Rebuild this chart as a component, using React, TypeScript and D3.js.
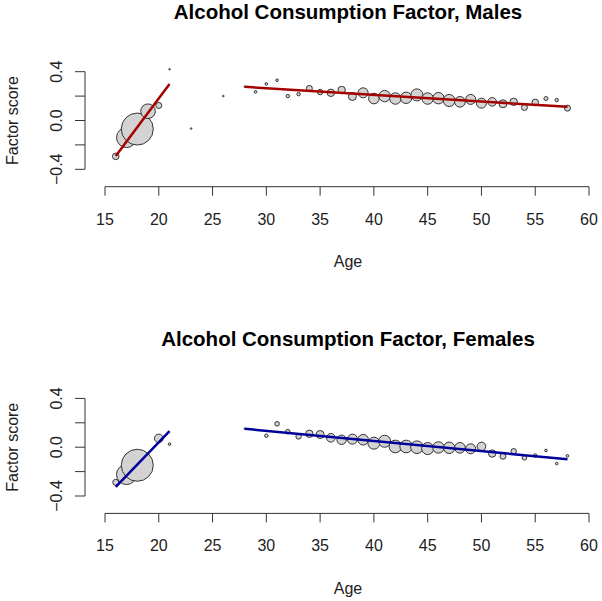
import React from "react";
import * as d3 from "d3";

// ---- Data ----
const maleAges = [16, 17, 18, 19, 20, 21, 23, 26, 28, 29, 30, 31, 32, 33, 34, 35, 36, 37, 38, 39, 40, 41, 42, 43, 44, 45, 46, 47, 48, 49, 50, 51, 52, 53, 54, 55, 56, 57, 58];
const maleScores = [-0.294, -0.14, -0.07, 0.076, 0.123, 0.42, -0.066, 0.2, 0.277, 0.235, 0.3, 0.33, 0.2, 0.216, 0.263, 0.233, 0.227, 0.25, 0.197, 0.227, 0.18, 0.2, 0.18, 0.186, 0.21, 0.18, 0.183, 0.164, 0.153, 0.173, 0.142, 0.153, 0.137, 0.153, 0.107, 0.148, 0.18, 0.167, 0.101];
const maleN = [109, 1000, 2560, 533, 90, 6, 6, 6, 6, 17, 17, 17, 29, 29, 90, 73, 137, 137, 160, 250, 281, 325, 325, 325, 360, 325, 325, 360, 281, 250, 250, 185, 160, 137, 90, 109, 40, 29, 90];

const femaleAges = [16, 17, 18, 20, 21, 28, 30, 31, 32, 33, 34, 35, 36, 37, 38, 39, 40, 41, 42, 43, 44, 45, 46, 47, 48, 49, 50, 51, 52, 53, 54, 55, 56, 57, 58];
const femaleScores = [-0.288, -0.224, -0.148, 0.072, 0.025, 0.151, 0.094, 0.192, 0.127, 0.088, 0.11, 0.104, 0.077, 0.061, 0.066, 0.061, 0.033, 0.049, 0.006, 0.006, 0.0, -0.011, -0.002, -0.005, -0.005, -0.013, 0.006, -0.052, -0.074, -0.033, -0.087, -0.068, -0.027, -0.134, -0.071];
const femaleN = [90, 1000, 2560, 185, 17, 6, 29, 53, 53, 73, 137, 160, 185, 221, 250, 281, 360, 360, 397, 397, 397, 360, 325, 325, 281, 250, 185, 137, 90, 73, 53, 29, 17, 17, 17];

// Fitted segments: [ageStart, ageEnd] -> [scoreStart, scoreEnd]
const maleFitYoungAges = [16, 21];
const maleFitYoung = [-0.29, 0.3];
const maleFitAdultAges = [28, 58];
const maleFitAdult = [0.276, 0.112];
const femaleFitYoungAges = [16, 21];
const femaleFitYoung = [-0.326, 0.132];
const femaleFitAdultAges = [28, 58];
const femaleFitAdult = [0.151, -0.099];

const xTicks = [15, 20, 25, 30, 35, 40, 45, 50, 55, 60];
const yTicks = [-0.4, -0.2, 0.0, 0.2, 0.4];
const yTickLabels = ["-0.4", "", "0.0", "", "0.4"];

const FONT = "'Liberation Sans', Arial, sans-serif";

type PanelProps = {
  oy: number;
  title: string;
  ages: number[];
  scores: number[];
  ns: number[];
  fits: { ages: number[]; scores: number[] }[];
  color: string;
};

const x = d3.scaleLinear().domain([15, 60]).range([105, 589]);
const r = d3.scaleSqrt().domain([0, 2560]).range([0, 16]);

function Panel({ oy, title, ages, scores, ns, fits, color }: PanelProps) {
  const y = d3.scaleLinear().domain([-0.4, 0.4]).range([169.3 + oy, 71.7 + oy]);
  const axisY = 186.7 + oy;
  const line = d3
    .line<[number, number]>()
    .x((d) => x(d[0]))
    .y((d) => y(d[1]));
  const pts = ages.map((a, i) => ({ a, s: scores[i], n: ns[i] }));
  const axisColor = "#333";
  return (
    <g>
      <text x={348} y={19 + oy} textAnchor="middle" fontFamily={FONT} fontWeight="bold" fontSize={20.5} fill="#000">
        {title}
      </text>
      {/* x axis */}
      <line x1={x(15)} x2={x(60)} y1={axisY} y2={axisY} stroke={axisColor} strokeWidth={1} />
      {xTicks.map((t) => (
        <g key={t}>
          <line x1={x(t)} x2={x(t)} y1={axisY} y2={axisY + 9} stroke={axisColor} strokeWidth={1} />
          <text x={x(t)} y={224.5 + oy} textAnchor="middle" fontFamily={FONT} fontSize={16} fill="#222">
            {t}
          </text>
        </g>
      ))}
      <text x={348} y={267.3 + oy} textAnchor="middle" fontFamily={FONT} fontSize={16} fill="#222">
        Age
      </text>
      {/* y axis */}
      <line x1={85} x2={85} y1={y(-0.4)} y2={y(0.4)} stroke={axisColor} strokeWidth={1} />
      {yTicks.map((t, i) => (
        <g key={t}>
          <line x1={75} x2={85} y1={y(t)} y2={y(t)} stroke={axisColor} strokeWidth={1} />
          {yTickLabels[i] && (
            <text
              transform={`translate(61.5,${y(t)}) rotate(-90)`}
              textAnchor="middle"
              fontFamily={FONT}
              fontSize={16}
              fill="#222"
            >
              {yTickLabels[i].replace("-", "\u2212")}
            </text>
          )}
        </g>
      ))}
      <text
        transform={`translate(18.3,${y(0)}) rotate(-90)`}
        textAnchor="middle"
        fontFamily={FONT}
        fontSize={16}
        fill="#222"
      >
        Factor score
      </text>
      {/* points */}
      {pts.map((p, i) => (
        <circle key={i} cx={x(p.a)} cy={y(p.s)} r={Math.max(r(p.n), 0.8)} fill="#d3d3d3" stroke="#333" strokeWidth={1} />
      ))}
      {/* fitted lines */}
      {fits.map((f, i) => (
        <path
          key={i}
          d={line(f.ages.map((a, j) => [a, f.scores[j]] as [number, number])) || ""}
          stroke={color}
          strokeWidth={2.5}
          fill="none"
        />
      ))}
    </g>
  );
}

export default function App() {
  return (
    <svg width={602} height={601} style={{ position: "absolute", left: 0, top: 0, background: "#fff" }}>
      <rect x={0} y={0} width={602} height={601} fill="#fff" />
      <Panel
        oy={0}
        title="Alcohol Consumption Factor, Males"
        ages={maleAges}
        scores={maleScores}
        ns={maleN}
        fits={[
          { ages: maleFitYoungAges, scores: maleFitYoung },
          { ages: maleFitAdultAges, scores: maleFitAdult },
        ]}
        color="#a50000"
      />
      <Panel
        oy={326.7}
        title="Alcohol Consumption Factor, Females"
        ages={femaleAges}
        scores={femaleScores}
        ns={femaleN}
        fits={[
          { ages: femaleFitYoungAges, scores: femaleFitYoung },
          { ages: femaleFitAdultAges, scores: femaleFitAdult },
        ]}
        color="#00009a"
      />
    </svg>
  );
}
